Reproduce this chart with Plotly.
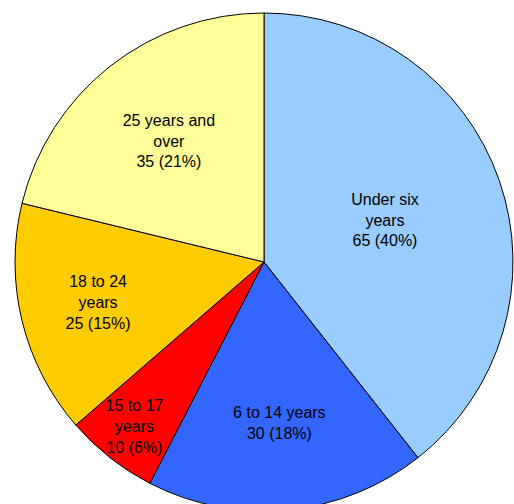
import plotly.graph_objects as go

# data
age_groups = ["Under six years", "6 to 14 years", "15 to 17 years",
              "18 to 24 years", "25 years and over"]
label_lines = ["Under six<br>years", "6 to 14 years", "15 to 17<br>years",
               "18 to 24<br>years", "25 years and<br>over"]
counts = [65, 30, 10, 25, 35]
pct_labels = ["40%", "18%", "6%", "15%", "21%"]

slice_colors = ["#99CCFF", "#3366FF", "#FF0000", "#FFCC00", "#FFFF99"]

text = [f"{l}<br>{c} ({p})" for l, c, p in zip(label_lines, counts, pct_labels)]

fig = go.Figure(go.Pie(
    labels=age_groups,
    values=counts,
    text=text,
    textinfo="text",
    textposition="inside",
    insidetextorientation="horizontal",
    sort=False,
    direction="clockwise",
    rotation=0,
    marker=dict(colors=slice_colors, line=dict(color="#000000", width=1)),
    textfont=dict(family="Liberation Sans, Arial, sans-serif", size=16, color="#000000"),
    showlegend=False,
    hoverinfo="label+value+percent",
))

fig.update_layout(
    width=514,
    height=524,
    margin=dict(l=15, r=1, t=13, b=13),
    paper_bgcolor="#FFFFFF",
    plot_bgcolor="#FFFFFF",
    uniformtext=dict(minsize=16, mode="show"),
)

fig.write_html(
    "out.html",
    config={"displayModeBar": False},
    post_script="document.body.style.margin='0';"
                "document.body.style.overflow='hidden';"
                "document.documentElement.style.overflow='hidden';",
)
